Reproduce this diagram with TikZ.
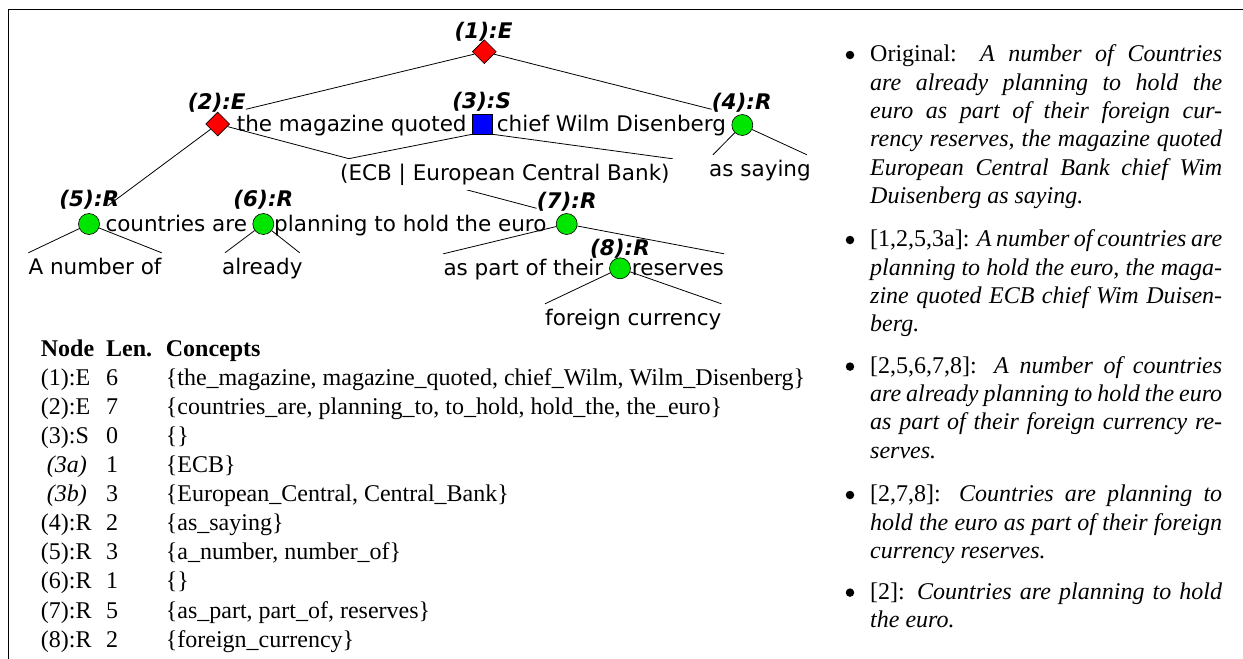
\documentclass[tikz,border=0pt]{standalone}
\usepackage{fontspec}
\setmainfont{Liberation Serif}
\newfontfamily\dv{DejaVu Sans}[BoldFont={DejaVu Sans Bold}, ItalicFont={DejaVu Sans Oblique}, BoldItalicFont={DejaVu Sans Bold Oblique}]
\usetikzlibrary{shapes.geometric, backgrounds}
\definecolor{ngreen}{RGB}{0,230,0}
\newcommand{\jline}[1]{\hbox to 352pt{#1}}
\newcommand{\lline}[1]{\hbox{#1}}
\tikzset{
  link/.style={draw, line width=0.8pt},
  enode/.style={diamond, draw, fill=red, minimum width=24pt, minimum height=24pt, inner sep=0pt, line width=0.6pt},
  snode/.style={rectangle, draw, fill=blue, minimum size=20pt, inner sep=0pt, line width=0.6pt},
  rnode/.style={circle, draw, fill=ngreen, minimum size=21pt, inner sep=0pt, line width=0.6pt},
  lab/.style={font=\dv\bfseries\itshape\fontsize{21.5}{24}\selectfont, inner sep=0pt, anchor=base},
  phr/.style={font=\dv\fontsize{21.5}{24}\selectfont, inner xsep=0pt, inner ysep=5pt, text height=16pt, text depth=5pt, anchor=base west},
  bul/.style={anchor=base west, inner sep=0pt, font=\fontsize{24}{28.33}\selectfont},
  dot/.style={circle, fill=black, inner sep=0pt, minimum size=8.5pt},
}
\begin{document}
\begin{tikzpicture}[x=1pt, y=-1pt]
\useasboundingbox (0,0) rectangle (1243,659);
% frame
\draw[line width=0.8pt] (8.5,659) -- (8.5,9.3) -- (1243,9.3);

% tree shapes
\node[enode] (n1) at (484.3,51.7) {};
\node[enode] (n2) at (217.7,124) {};
\node[snode] (n3) at (482.3,124) {};
\node[rnode] (n4) at (742.3,125) {};
\node[rnode] (n5) at (89,224) {};
\node[rnode] (n6) at (263.3,224) {};
\node[rnode] (n7) at (566.7,224) {};
\node[rnode] (n8) at (620,268.3) {};

% labels
\node[lab] (l1) at (483.5,38.3) {(1):E};
\node[lab] (l2) at (216.7,109.3) {(2):E};
\node[lab] (l3) at (481.7,108.3) {(3):S};
\node[lab] (l4) at (741.7,109.3) {(4):R};
\node[lab] (l5) at (89.3,206) {(5):R};
\node[lab] (l6) at (263.3,206) {(6):R};
\node[lab] (l7) at (566.7,208.3) {(7):R};
\node[lab] (l8) at (620,255) {(8):R};

% phrases
\node[phr] (mag) at (236.7,131) {the magazine quoted};
\node[phr] (chief) at (496.7,131) {chief Wilm Disenberg};
\node[phr, inner xsep=3pt, fill=white] (ecb) at (337,180) {(ECB | European Central Bank)};
\node[phr] (saying) at (709,176) {as saying};
\node[phr] (ctry) at (105.3,231) {countries are};
\node[phr] (plan) at (274,231) {planning to hold the euro};
\node[phr] (anum) at (28.3,274) {A number of};
\node[phr] (alrdy) at (222,274) {already};
\node[phr] (part) at (443.3,275) {as part of their};
\node[phr] (resv) at (631.7,275) {reserves};
\node[phr] (forc) at (545,325) {foreign currency};

% connectors
\begin{pgfonlayer}{background}
\draw[link] (n1) -- (l2.base east);
\draw[link] (n1) -- (l4.base west);
\draw[link] (n2) -- ([xshift=-12pt]l5.base east);
\draw[link] (n2) -- (l7.base west);
\draw[link] (n3.south west) -- ([xshift=11pt]ecb.north west);
\draw[link] (n3.south east) -- (ecb.north east);
\draw[link] (n4) -- ([xshift=4pt]saying.north west);
\draw[link] (n4) -- ([xshift=-4pt]saying.north east);
\draw[link] (n5) -- (anum.north west);
\draw[link] (n5) -- (anum.north east);
\draw[link] (n6) -- ([xshift=3pt]alrdy.north west);
\draw[link] (n6) -- ([xshift=-3pt]alrdy.north east);
\draw[link] (n7) -- (part.north west);
\draw[link] (n7) -- (resv.north east);
\draw[link] (n8) -- (forc.north west);
\draw[link] (n8) -- (forc.north east);
\end{pgfonlayer}

% table
\node[anchor=north west, inner sep=0pt, font=\fontsize{24}{29.1}\selectfont] (tab) at (40.7,335.6) {%
\begin{tabular}{@{}p{65.3pt}@{}p{59.7pt}@{}l@{}}
\textbf{Node} & \textbf{Len.} & \textbf{Concepts}\\
(1):E & 6 & \{the\_magazine, magazine\_quoted, chief\_Wilm, Wilm\_Disenberg\}\\
(2):E & 7 & \{countries\_are, planning\_to, to\_hold, hold\_the, the\_euro\}\\
(3):S & 0 & \{\}\\
\ \textit{(3a)} & 1 & \{ECB\}\\
\ \textit{(3b)} & 3 & \{European\_Central, Central\_Bank\}\\
(4):R & 2 & \{as\_saying\}\\
(5):R & 3 & \{a\_number, number\_of\}\\
(6):R & 1 & \{\}\\
(7):R & 5 & \{as\_part, part\_of, reserves\}\\
(8):R & 2 & \{foreign\_currency\}
\end{tabular}};

% bullets
\node[dot] (d1) at (850,55) {};
\node[dot] (d2) at (850,240) {};
\node[dot] (d3) at (850,366.6) {};
\node[dot] (d4) at (850,495) {};
\node[dot] (d5) at (850,592.6) {};
\node[bul] (b1) at (870,61.7) {\vtop{%
\jline{Original:  \textit{A number of Countries}}
\jline{\textit{are already planning to hold the}}
\jline{\textit{euro as part of their foreign cur-}}
\jline{\textit{rency reserves, the magazine quoted}}
\jline{\textit{European Central Bank chief Wim}}
\lline{\textit{Duisenberg as saying.}}}};
\node[bul] (b2) at (870,246.7) {\vtop{%
\jline{[1,2,5,3a]: \textit{A number of countries are}}
\jline{\textit{planning to hold the euro, the maga-}}
\jline{\textit{zine quoted ECB chief Wim Duisen-}}
\lline{\textit{berg.}}}};
\node[bul] (b3) at (870,373.3) {\vtop{%
\jline{[2,5,6,7,8]:  \textit{A number of countries}}
\jline{\textit{are already planning to hold the euro}}
\jline{\textit{as part of their foreign currency re-}}
\lline{\textit{serves.}}}};
\node[bul] (b4) at (870,501.7) {\vtop{%
\jline{[2,7,8]:  \textit{Countries are planning to}}
\jline{\textit{hold the euro as part of their foreign}}
\lline{\textit{currency reserves.}}}};
\node[bul] (b5) at (870,599.3) {\vtop{%
\jline{[2]: \textit{Countries are planning to hold}}
\lline{\textit{the euro.}}}};
\end{tikzpicture}
\end{document}
